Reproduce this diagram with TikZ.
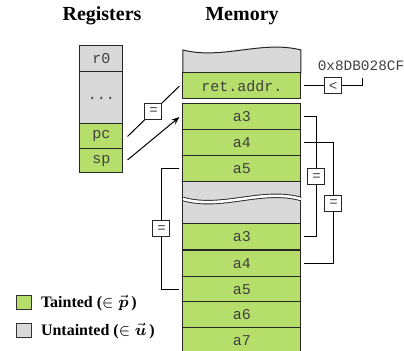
\documentclass[tikz,border=0pt]{standalone}
\usepackage{amsmath}
\usepackage{fontspec}
\setmainfont{Liberation Serif}
\newfontfamily\memfont{Liberation Mono}
\usetikzlibrary{arrows.meta,calc}
\definecolor{grn}{HTML}{B5DE6B}
\definecolor{gry}{HTML}{D9D9D9}
\newcommand\regdots{...}

\begin{document}
\begin{tikzpicture}[x=0.5pt,y=-0.5pt,>=Stealth,line width=0.5pt]
\tikzstyle{cell}=[draw=black!85,minimum width=59pt,minimum height=13pt,inner sep=0pt,fill=grn,font=\memfont\fontsize{7.5}{9}\selectfont,text=black!75]
\tikzstyle{reg}=[draw=black!85,minimum width=21.5pt,inner sep=0pt,font=\memfont\fontsize{7.5}{9}\selectfont,text=black!75]
\tikzstyle{eqbox}=[draw=black!85,fill=white,minimum width=8.5pt,minimum height=8pt,inner sep=0pt,font=\memfont\fontsize{7}{8}\selectfont,text=black!75]
\tikzstyle{legbox}=[draw=black!80,minimum width=7.5pt,minimum height=7pt,inner sep=0pt]
\useasboundingbox (0,0) rectangle (404,351);
\node[font=\bfseries\fontsize{10}{12}\selectfont] (regt) at (102,16) {Registers};
\node[font=\bfseries\fontsize{10}{12}\selectfont] (memt) at (242,16) {Memory};
\foreach \n/\y/\h/\t/\c in {r0/59/13pt/r0/gry,rdots/98/26pt/\regdots/gry,pc/136.5/12.5pt/pc/grn,sp/161/12pt/sp/grn} \node[reg,minimum height=\h,fill=\c] (\n) at (101.5,\y) {\t};
\filldraw[fill=gry,draw=black!85] (183,73) -- (183,50) .. controls (222,60) and (262,40) .. (301,50) -- (301,73) -- cycle;
\fill[gry] (183,181) rectangle (301,224);
\draw[black!85] (183,181) -- (183,224) (301,181) -- (301,224);
\draw[black!85,line width=2.2pt] (183,199) .. controls (222,210) and (262,188) .. (301,199);
\draw[white,line width=1.3pt] (183,199) .. controls (222,210) and (262,188) .. (301,199);
\foreach \n/\y/\t in {ret/86/ret.addr.,u3/117/a3,u4/143/a4,u5/168.5/a5,l3/237/a3,l4/263.5/a4,l5/289.5/a5,l6/315/a6,l7/341/a7} \node[cell] (\n) at (242,\y) {\t};
\draw ($(pc.east)+(4,0)$) -- node[eqbox]{=} ($(ret.west)+(-3,0)$);
\draw[-{Stealth[length=4pt,width=3pt]}] ($(sp.east)+(4,-1)$) -- ($(u3.west)+(-3,0)$);
\node[eqbox] (lt) at (333,86) {<};
\node[font=\memfont\fontsize{7.2}{9}\selectfont,text=black!75] (addr) at (361,66) {0x8DB028CF};
\draw ($(ret.east)+(3,0)$) -- (lt);
\draw (lt) -| ([xshift=1pt]addr.south);
\draw ($(u3.east)+(3,0)$) -- ++(12,0) |- node[eqbox,pos=0.25]{=} ($(l3.east)+(3,0)$);
\draw ($(u4.east)+(3,0)$) -- ++(29,0) |- node[eqbox,pos=0.25]{=} ($(l4.east)+(3,0)$);
\draw ($(u5.west)+(-3,0)$) -- ++(-18,0) |- node[eqbox,pos=0.25]{=} ($(l5.west)+(-3,0)$);
\node[legbox,fill=grn] (lgt) at (24.5,303) {};
\node[legbox,fill=gry] (lgu) at (24.5,331) {};
\node[anchor=west,inner sep=0pt,font=\bfseries\fontsize{8}{10}\selectfont] (tlab) at ([xshift=4pt]lgt.east) {Tainted ($\in \vec{\boldsymbol{p}}\,$)};
\node[anchor=west,inner sep=0pt,font=\bfseries\fontsize{8}{10}\selectfont] (ulab) at ([xshift=4pt]lgu.east) {Untainted ($\in \vec{\boldsymbol{u}}\,$)};
\end{tikzpicture}
\end{document}
